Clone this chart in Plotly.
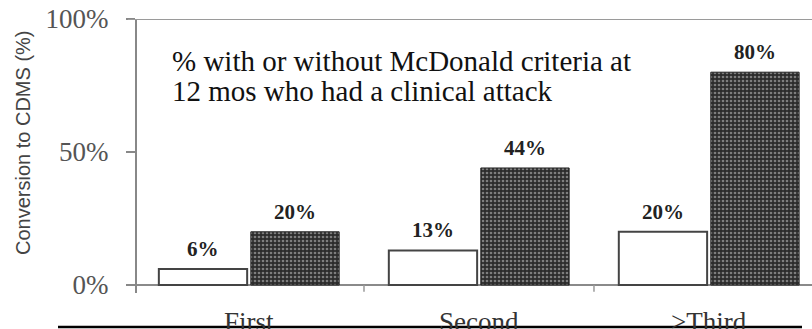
import plotly.graph_objects as go

# Attack number categories and conversion rates (%)
categories = ["First", "Second", ">Third"]
without_criteria = [6, 13, 20]
with_criteria = [20, 44, 80]
y_ticks = [0, 50, 100]
y_tick_labels = ["0%", "50%", "100%"]

SERIF = "Liberation Serif, Times New Roman, serif"
SANS = "Liberation Sans, Arial, sans-serif"

W, H = 812, 329
ML, MR, MT, MB = 137, 0, 19, 36
plot_w = W - ML - MR
plot_h = H - MT - MB

x_idx = list(range(len(categories)))

fig = go.Figure()
fig.add_trace(go.Bar(
    x=x_idx, y=without_criteria,
    marker=dict(color="white", line=dict(color="#444444", width=2)),
    showlegend=False,
))
fig.add_trace(go.Bar(
    x=x_idx, y=with_criteria,
    marker=dict(
        color="#303030",
        line=dict(color="#222222", width=1),
        pattern=dict(shape=".", fgcolor="#cfcfcf", bgcolor="#2c2c2c",
                     size=4, solidity=0.35),
    ),
    showlegend=False,
))

annotations = []
# value labels above each bar
for i, (a, b) in enumerate(zip(without_criteria, with_criteria)):
    for off, v in ((-0.2, a), (0.2, b)):
        annotations.append(dict(
            x=i + off, y=v, xref="x", yref="y", text=f"<b>{v}%</b>",
            showarrow=False, yanchor="middle", yshift=20,
            font=dict(family=SERIF, size=21, color="#222222"),
        ))

# category labels below the baseline (partly hidden by the bottom rule)
for i, c in enumerate(categories):
    annotations.append(dict(
        x=i, y=(293 - 305) / plot_h, xref="x", yref="paper", text=c,
        showarrow=False, yanchor="top",
        font=dict(family=SERIF, size=27, color="#333333"),
    ))

# caption inside the plot
caption = ["% with or without McDonald criteria at",
           "12 mos who had a clinical attack"]
for k, line in enumerate(caption):
    annotations.append(dict(
        x=(170 - ML) / plot_w, y=(293 - (61 + 30 * k)) / plot_h,
        xref="paper", yref="paper", text=line, showarrow=False,
        xanchor="left", yanchor="middle",
        font=dict(family=SERIF, size=29, color="#111111"),
    ))

# y-axis title
annotations.append(dict(
    x=(23 - ML) / plot_w, y=(293 - 143) / plot_h, xref="paper", yref="paper",
    text="Conversion to CDMS (%)", textangle=-90, showarrow=False,
    xanchor="center", yanchor="middle",
    font=dict(family=SANS, size=20, color="#444444"),
))

shapes = [
    # top frame line
    dict(type="line", xref="paper", yref="y", x0=(128 - ML) / plot_w, x1=1,
         y0=100, y1=100, line=dict(color="#9a9a9a", width=2)),
    # category separator ticks
    dict(type="line", xref="x", yref="y", x0=0.5, x1=0.5, y0=0, y1=-2.5,
         line=dict(color="#999999", width=1.5)),
    dict(type="line", xref="x", yref="y", x0=1.5, x1=1.5, y0=0, y1=-2.5,
         line=dict(color="#999999", width=1.5)),
    # dark rule along the bottom
    dict(type="line", xref="paper", yref="paper",
         x0=(58 - ML) / plot_w, x1=(802 - ML) / plot_w,
         y0=(293 - 327) / plot_h, y1=(293 - 327) / plot_h,
         line=dict(color="#000000", width=2.5)),
]

fig.update_layout(
    width=W, height=H,
    margin=dict(l=ML, r=MR, t=MT, b=MB, pad=0),
    paper_bgcolor="white", plot_bgcolor="white",
    barmode="group", bargap=0.2, bargroupgap=0.04,
    annotations=annotations, shapes=shapes,
    xaxis=dict(range=[-0.487, 2.448], showticklabels=False, ticks="",
               showgrid=False, zeroline=False, showline=False, fixedrange=True),
    yaxis=dict(range=[-3, 100], tickvals=y_ticks, ticktext=y_tick_labels,
               ticks="outside", ticklen=9, tickwidth=1.5, tickcolor="#888888",
               ticklabelstandoff=12,
               tickfont=dict(family=SERIF, size=27, color="#555555"),
               showgrid=False, showline=True, linecolor="#888888", linewidth=2,
               zeroline=True, zerolinecolor="#8a8a8a", zerolinewidth=2,
               fixedrange=True),
)

fig.write_html("out.html", config={"displayModeBar": False})
